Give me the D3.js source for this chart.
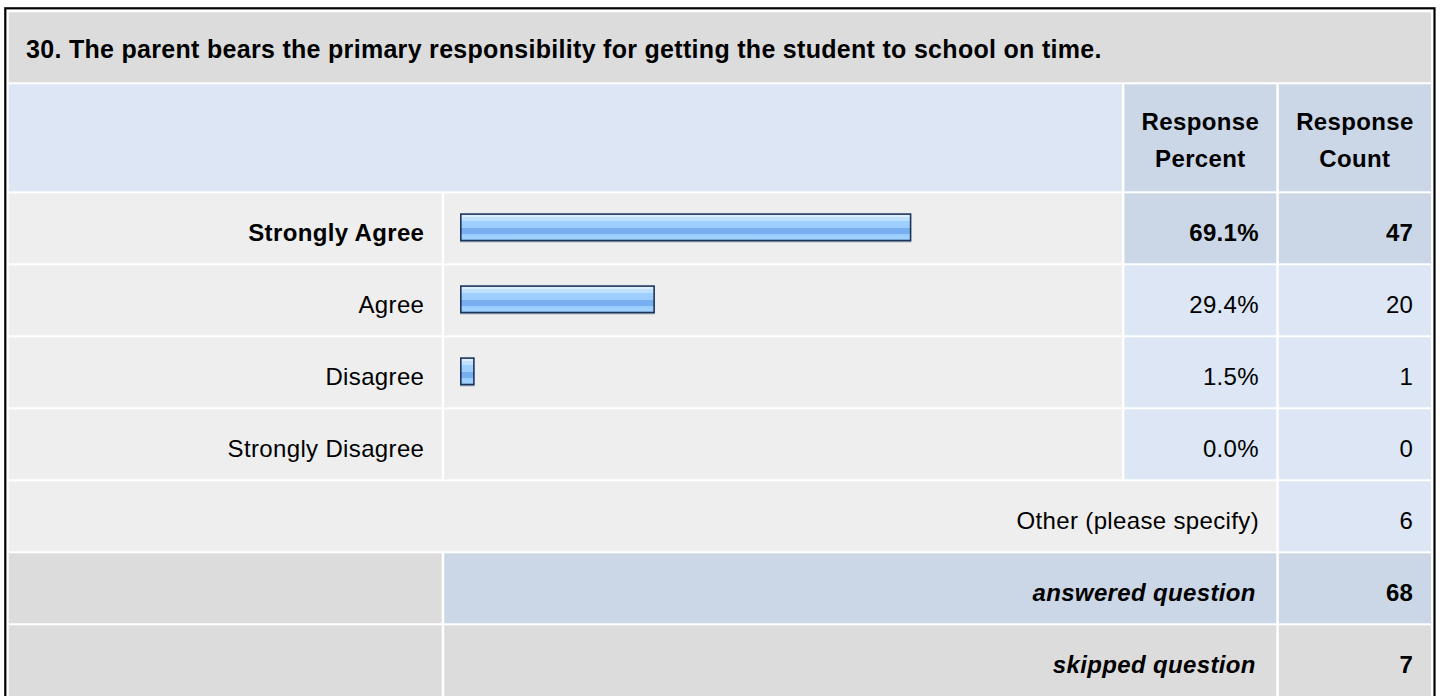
<!DOCTYPE html>
<html>
<head>
<meta charset="utf-8">
<script src="https://cdn.jsdelivr.net/npm/d3@7"></script>
<style>
  html, body { margin: 0; padding: 0; background: #ffffff; }
  svg { display: block; }
  text { font-family: Arial, "Liberation Sans", sans-serif; }
</style>
</head>
<body>
<svg id="chart" width="1440" height="696"></svg>
<script>
// ---- data ----
const questionTitle = "30. The parent bears the primary responsibility for getting the student to school on time.";
const categories = ["Strongly Agree", "Agree", "Disagree", "Strongly Disagree"];
const percents = [69.1, 29.4, 1.5, 0.0];
const counts = [47, 20, 1, 0];
const headerLabels = [["Response", "Percent"], ["Response", "Count"]];
const otherLabel = "Other (please specify)";
const otherCount = 6;
const summaryLabels = ["answered question", "skipped question"];
const summaryValues = [68, 7];

// ---- layout ----
const svg = d3.select("#chart");
const W = 1440, H = 696;
const colors = {
  title: "#dcdcdc", headBlue: "#dce6f4", headDark: "#cbd7e6",
  label: "#eeeeee", border: "#000000", barEdge: "#1b3457"
};
const cols = [[8.7, 441.7], [444.2, 1121.9], [1124.4, 1276.3], [1278.8, 1431]];
const titleRow = [12.3, 82.3];
const headRow = [84.3, 191.3];
const rowKeys = d3.range(7);
const y = d3.scaleBand().domain(rowKeys).range([193.3, 193.3 + 7 * 72 - 2]).paddingInner(2 / 72).paddingOuter(0);
const rh = y.bandwidth();
const x = d3.scaleLinear().domain([0, 100]).range([5, 651]);
const maxIdx = d3.maxIndex(counts);

// outer border
svg.append("rect").attr("x", 5.3).attr("y", 8.3).attr("width", 1434.5 - 5.3).attr("height", H + 20)
  .attr("fill", "none").attr("stroke", colors.border).attr("stroke-width", 2.2);

function cell(x0, x1, y0, y1, fill) {
  svg.append("rect").attr("x", x0).attr("y", y0).attr("width", x1 - x0).attr("height", y1 - y0).attr("fill", fill);
}
function txt(str, xp, yp, anchor, opts = {}) {
  return svg.append("text").attr("x", xp).attr("y", yp).attr("text-anchor", anchor)
    .attr("font-size", opts.size || 24).attr("font-weight", opts.bold ? "bold" : "normal")
    .attr("font-style", opts.italic ? "italic" : "normal")
    .attr("letter-spacing", opts.ls != null ? opts.ls : 0.35)
    .attr("fill", "#000").text(str);
}

// title row
cell(cols[0][0], cols[3][1], titleRow[0], titleRow[1], colors.title);
txt(questionTitle, 26, 58.3, "start", { bold: true, size: 25, ls: 0.3 });

// header row
cell(cols[0][0], cols[1][1], headRow[0], headRow[1], colors.headBlue);
[2, 3].forEach((c, k) => {
  cell(cols[c][0], cols[c][1], headRow[0], headRow[1], colors.headDark);
  const cx = (cols[c][0] + cols[c][1]) / 2;
  txt(headerLabels[k][0], cx, 130, "middle", { bold: true });
  txt(headerLabels[k][1], cx, 167.3, "middle", { bold: true });
});

// gradient for bars
const defs = svg.append("defs");
const grad = defs.append("linearGradient").attr("id", "barGrad").attr("x1", 0).attr("y1", 0).attr("x2", 0).attr("y2", 1);
[[0, "#dcefff"], [0.07, "#dcefff"], [0.07, "#bfe1ff"], [0.23, "#bfe1ff"], [0.23, "#a0d0ff"], [0.53, "#9ccdff"],
 [0.53, "#77aff1"], [0.76, "#77aff1"], [0.76, "#99ccff"], [1, "#a2d2ff"]]
  .forEach(([o, c]) => grad.append("stop").attr("offset", o).attr("stop-color", c));

// answer rows
categories.forEach((cat, i) => {
  const t = y(i), b = t + rh;
  const isMax = i === maxIdx;
  cell(cols[0][0], cols[0][1], t, b, colors.label);
  cell(cols[1][0], cols[1][1], t, b, colors.label);
  cell(cols[2][0], cols[2][1], t, b, isMax ? colors.headDark : colors.headBlue);
  cell(cols[3][0], cols[3][1], t, b, isMax ? colors.headDark : colors.headBlue);
  const base = t + 47.3;
  txt(cat, cols[0][1] - 17.4, base, "end", { bold: isMax });
  txt(percents[i].toFixed(1) + "%", cols[2][1] - 17.3, base, "end", { bold: isMax });
  txt(String(counts[i]), cols[3][1] - 17.7, base, "end", { bold: isMax });
  if (percents[i] > 0) {
    const bx = cols[1][0] + 15.8, by = t + 20, bw = x(percents[i]), bh = 28;
    svg.append("rect").attr("x", bx).attr("y", by + bh - 0.5).attr("width", bw).attr("height", 1.5).attr("fill", "#9aa7bb");
    svg.append("rect").attr("x", bx).attr("y", by).attr("width", bw).attr("height", bh).attr("fill", colors.barEdge);
    svg.append("rect").attr("x", bx + 1.6).attr("y", by + 1.6).attr("width", bw - 3.2).attr("height", bh - 3.2).attr("fill", "url(#barGrad)");
  }
});

// other row
{
  const t = y(4), b = t + rh;
  cell(cols[0][0], cols[2][1], t, b, colors.label);
  cell(cols[3][0], cols[3][1], t, b, colors.headBlue);
  txt(otherLabel, cols[2][1] - 17.3, t + 47.3, "end");
  txt(String(otherCount), cols[3][1] - 17.7, t + 47.3, "end");
}

// summary rows
summaryLabels.forEach((lab, k) => {
  const t = y(5 + k), b = k === 1 ? H + 10 : t + rh;
  const fill = k === 0 ? colors.headDark : colors.title;
  cell(cols[0][0], cols[0][1], t, b, colors.title);
  cell(cols[1][0], cols[2][1], t, b, fill);
  cell(cols[3][0], cols[3][1], t, b, fill);
  txt(lab, cols[2][1] - 20.5, t + 47.3, "end", { bold: true, italic: true });
  txt(String(summaryValues[k]), cols[3][1] - 17.7, t + 47.3, "end", { bold: true });
});
</script>
</body>
</html>
